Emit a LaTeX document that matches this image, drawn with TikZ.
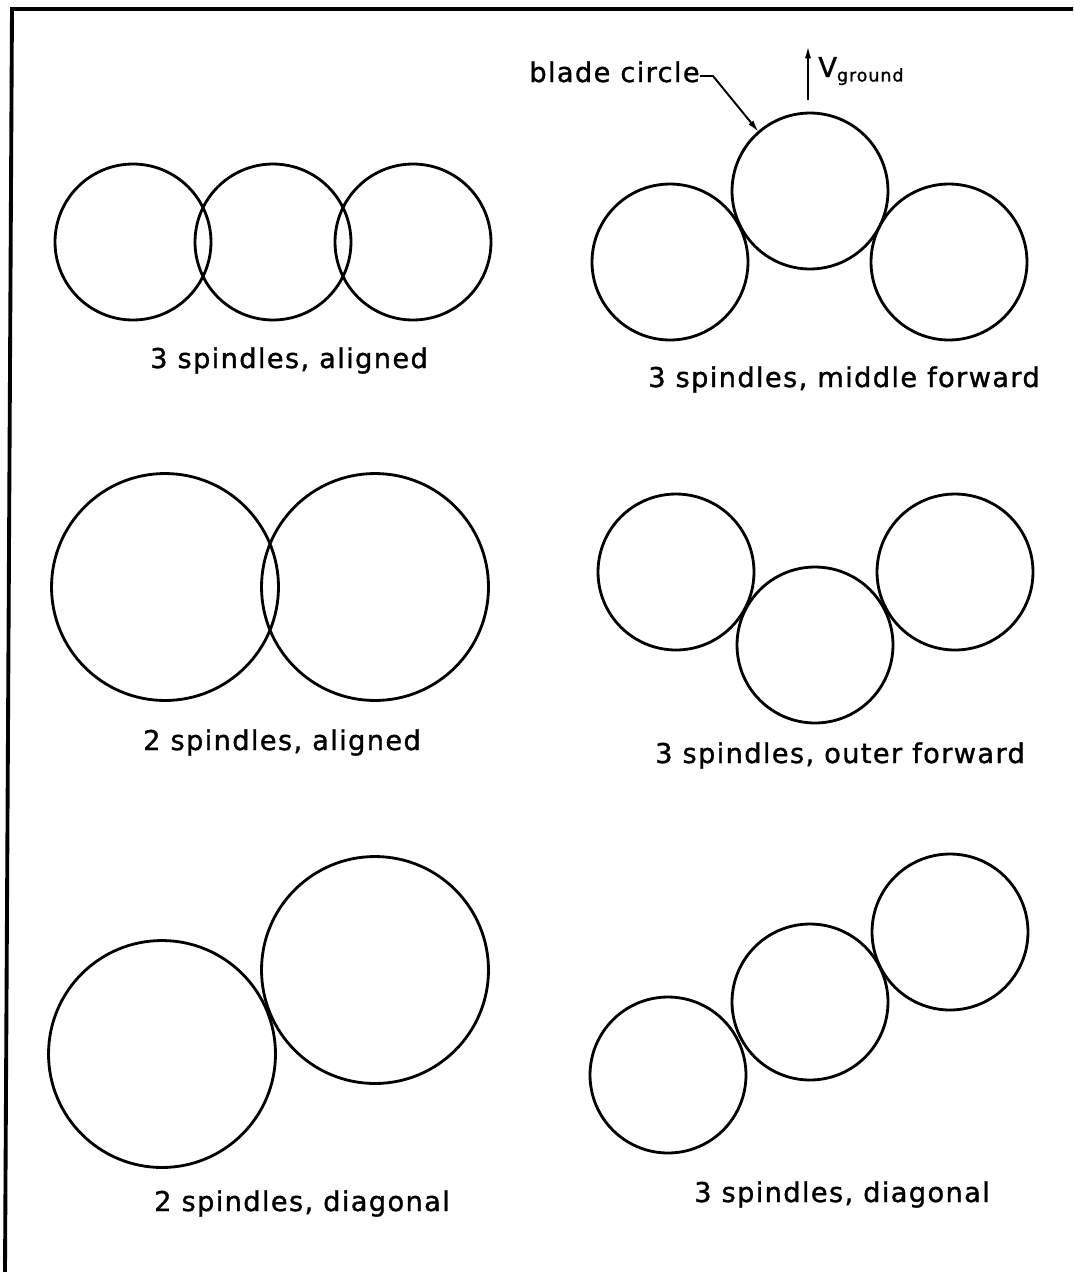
\documentclass[tikz,border=0pt]{standalone}
\usepackage{fontspec}
\newfontfamily\cadfont[LetterSpace=5,FakeBold=1.2]{DejaVu Sans}
\usetikzlibrary{arrows.meta}
\begin{document}
\begin{tikzpicture}[x=0.02cm,y=-0.02cm,
  blade/.style={draw,circle,line width=1.6pt,inner sep=0pt,outer sep=0pt},
  small/.style={blade,minimum size=3.12cm},
  big/.style={blade,minimum size=4.54cm},
  lab/.style={font=\cadfont\fontsize{15.5}{18}\selectfont,anchor=base,inner sep=0pt},
  frame/.style={line width=2.2pt},
  lead/.style={line width=1.1pt,-{Latex[length=7pt,width=3.5pt]}}]
\useasboundingbox (0,0) rectangle (1073,1272);
\fill[white] (0,0) rectangle (1073,1272);
\draw[frame] (1073,9) -- (12,9) -- (5,1272);
% row 1 left
\node[small] (a1) at (133,242) {};
\node[small] (a2) at (273,242) {};
\node[small] (a3) at (413,242) {};
\node[lab] (la) at (289,368) {3 spindles, aligned};
% row 1 right
\node[small] (b1) at (670,262) {};
\node[small] (b2) at (810,191) {};
\node[small] (b3) at (949,262) {};
\node[lab] (lb) at (844,387) {3 spindles, middle forward};
\node[lab,anchor=base east] (bc) at (700,82) {blade circle};
\coordinate (bk) at (713,76);
\draw[lead] (bc.east |- bk) -- (bk) -- (b2.131);
\coordinate (v0) at (808,100);
\coordinate (v1) at (808,46);
\draw[lead] (v0) -- (v1);
\node[font=\cadfont\fontsize{15.5}{18}\selectfont,anchor=base west,inner sep=0pt] (vg) at (818,77) {V\raisebox{-0.3ex}{\fontsize{10}{11}\selectfont ground}};
% row 2 left
\node[big] (c1) at (165,587) {};
\node[big] (c2) at (375,587) {};
\node[lab] (lc) at (282,750) {2 spindles, aligned};
% row 2 right
\node[small] (d1) at (676,572) {};
\node[small] (d2) at (815,645) {};
\node[small] (d3) at (955,572) {};
\node[lab] (ld) at (840,763) {3 spindles, outer forward};
% row 3 left
\node[big] (e1) at (162,1054) {};
\node[big] (e2) at (375,970) {};
\node[lab] (le) at (302,1211) {2 spindles, diagonal};
% row 3 right
\node[small] (f1) at (668,1075) {};
\node[small] (f2) at (810,1002) {};
\node[small] (f3) at (950,932) {};
\node[lab] (lf) at (842,1202) {3 spindles, diagonal};
\end{tikzpicture}
\end{document}
